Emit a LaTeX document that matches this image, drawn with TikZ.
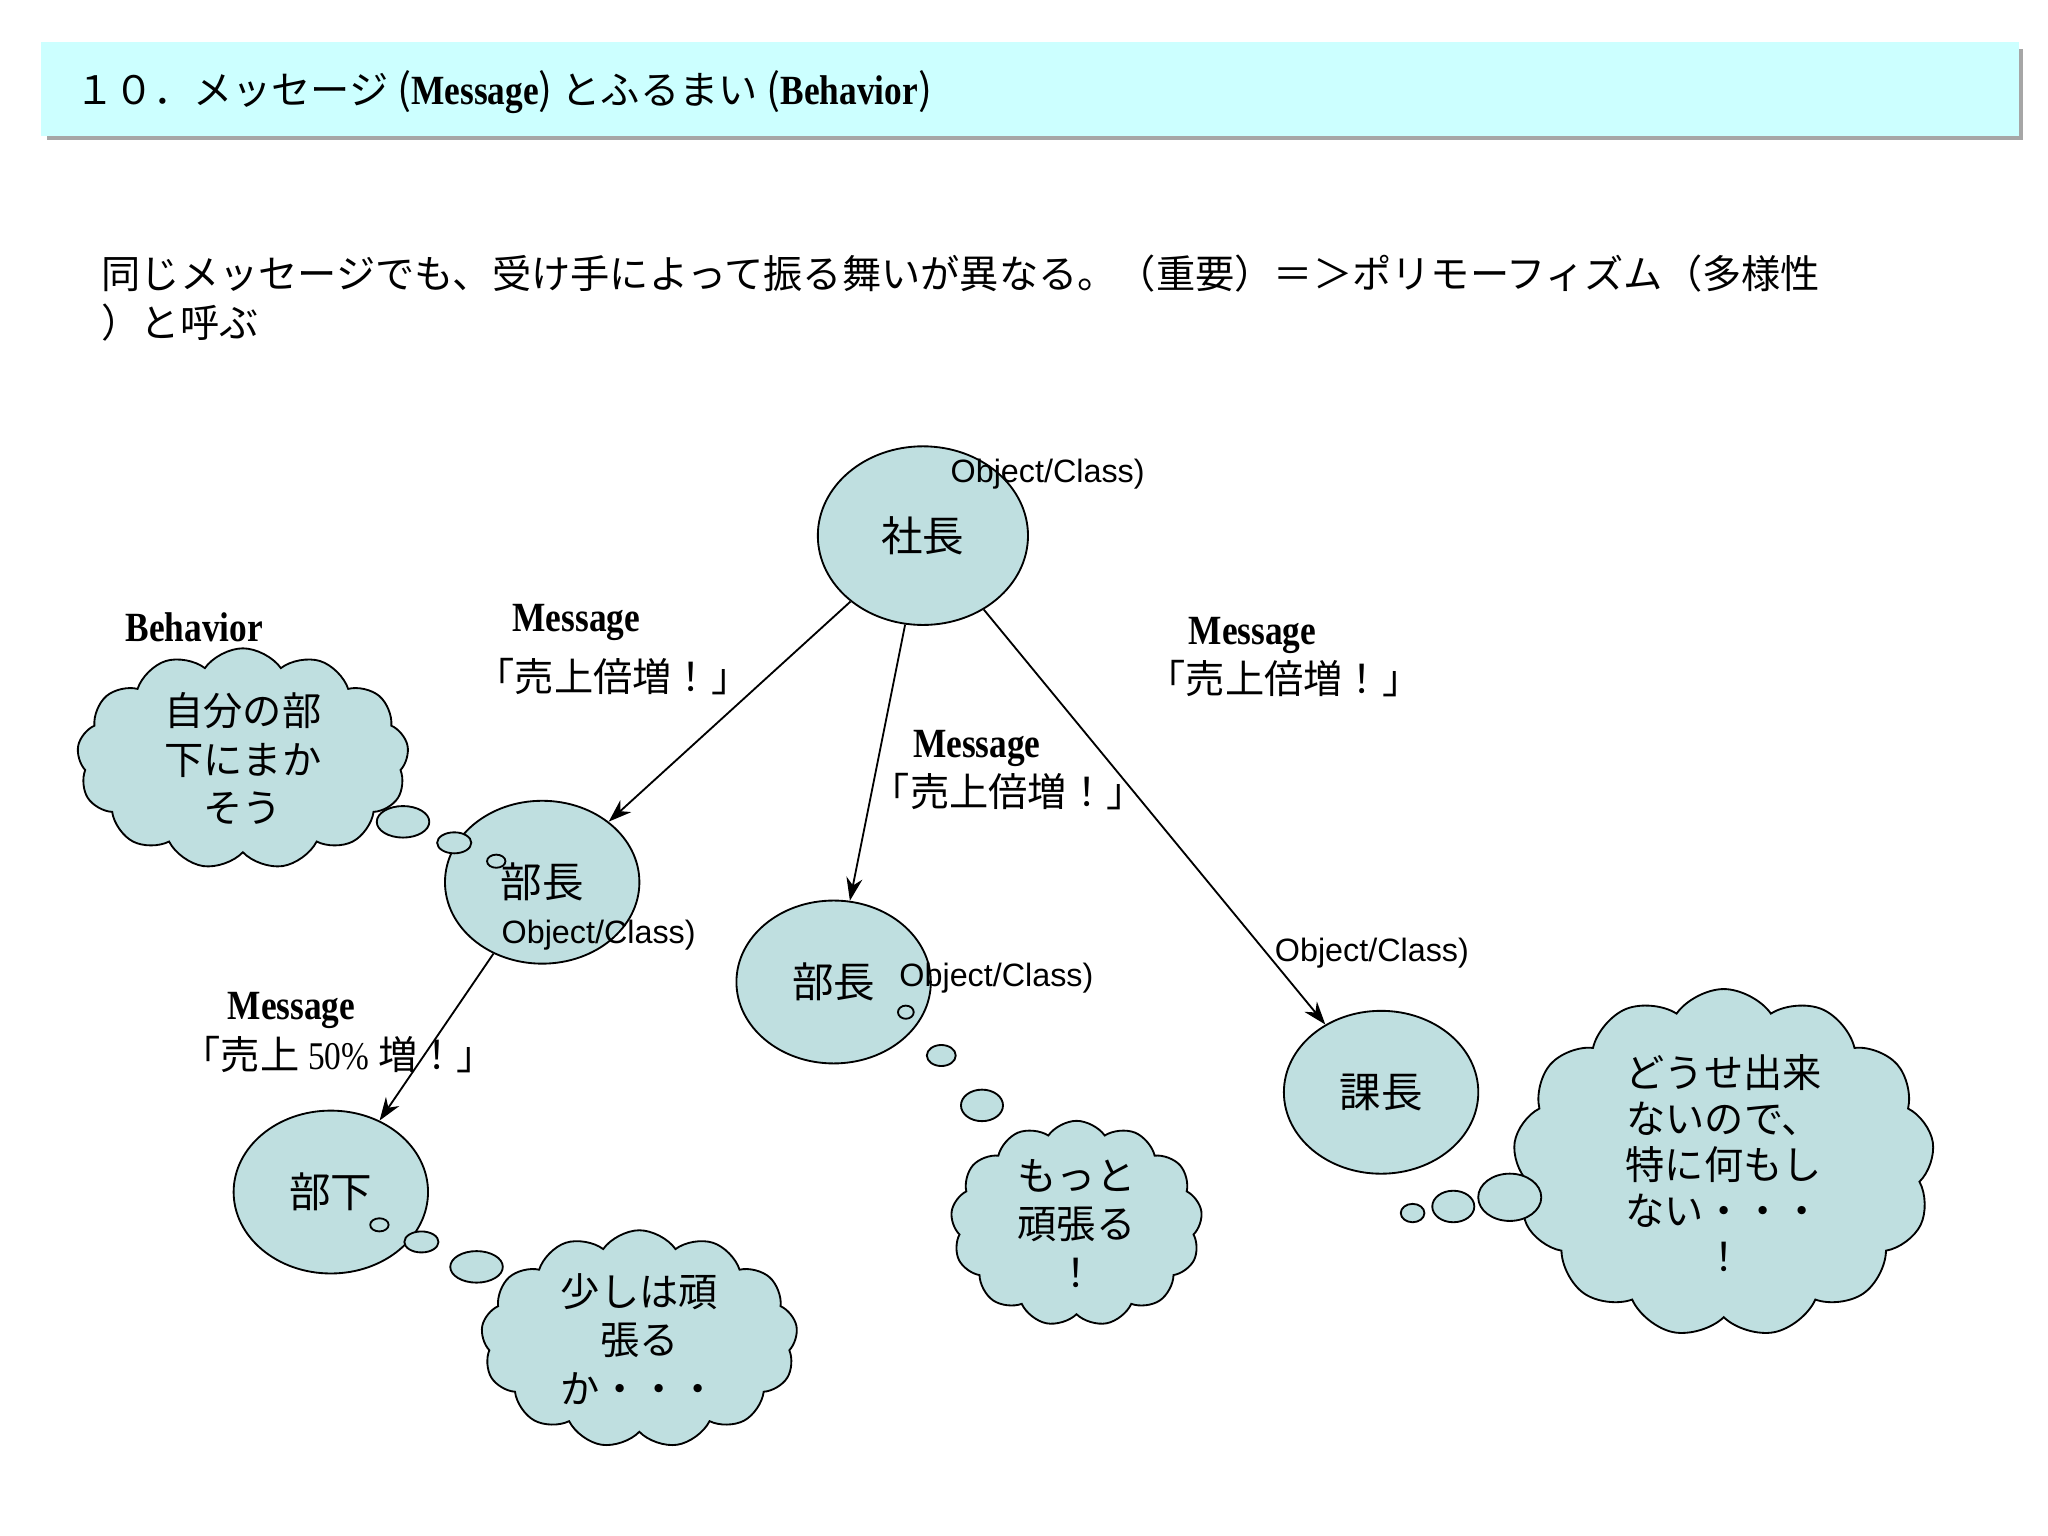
\documentclass[tikz,border=0pt]{standalone}
\usepackage{fontspec}
\setmainfont{Liberation Sans}
\newfontfamily\cjk{Noto Sans CJK JP}
\newfontfamily\gothf{Liberation Serif}[FakeStretch=0.85]
\newcommand\gothtxt[1]{{\gothf\bfseries #1}}
\usetikzlibrary{shapes.symbols,shapes.geometric,arrows.meta}
\definecolor{band}{HTML}{CCFFFF}
\definecolor{blob}{HTML}{BFDFE0}
\tikzset{
	obj/.style={draw,ellipse,fill=blob,inner sep=0pt,minimum width=1.48cm,minimum height=1.24cm,font=\cjk\fontsize{9}{10}\selectfont},
	think/.style={draw,cloud,cloud puffs=13,cloud puff arc=110,fill=blob,align=center,inner sep=0pt,font=\cjk\fontsize{8.5}{10.5}\selectfont},
	bub/.style={draw,ellipse,fill=blob,inner sep=0pt},
	msg/.style={-{Stealth[length=5pt,width=3.5pt]}},
	jp/.style={font=\cjk\fontsize{8.5}{10}\selectfont},
	oc/.style={font=\fontsize{7}{8}\selectfont},
	goth/.style={font=\fontsize{9}{10}\selectfont},
}
\begin{document}
\begin{tikzpicture}[x=0.01cm,y=-0.01cm]
	\useasboundingbox (0,0) rectangle (1560,1170);
	% header
	\fill[gray!70] (36,37) rectangle (1541,107);
	\draw[band,fill=band] (32,33) rectangle (1537,103);
	\node[anchor=west,font=\cjk\fontsize{8.5}{10}\selectfont] (title) at (45,70) {１０．メッセージ {\fontsize{9}{10}\selectfont(\gothtxt{Message})} とふるまい {\fontsize{9}{10}\selectfont(\gothtxt{Behavior})}};
	\node[anchor=north west,align=left,font=\cjk\fontsize{8.5}{10.5}\selectfont] (intro) at (65,182) {同じメッセージでも、受け手によって振る舞いが異なる。（重要）＝＞ポリモーフィズム（多様性\\）と呼ぶ};
	% objects
	\node[obj,minimum width=1.6cm,minimum height=1.36cm] (pres) at (703,408) {社長};
	\node[obj] (bu1) at (413,672) {部長};
	\node[obj] (bu2) at (635,748) {部長};
	\node[obj] (ka) at (1052,832) {課長};
	\node[obj] (sub) at (252,908) {部下};
	\node[oc] (oc1) at (798,361) {Object/Class)};
	\node[oc] (oc2) at (456,712) {Object/Class)};
	\node[oc] (oc3) at (759,745) {Object/Class)};
	\node[oc] (oc4) at (1045,726) {Object/Class)};
	% messages
	\draw[msg] (pres) -- (bu1);
	\draw[msg] (pres) -- (bu2);
	\draw[msg] (pres) -- (ka);
	\draw[msg] (bu1) -- (sub);
	\node[goth] (m1) at (439,474) {\gothtxt{Message}};
	\node[jp] (t1) at (467,515) {「売上倍増！」};
	\node[goth] (m2) at (954,484) {\gothtxt{Message}};
	\node[jp] (t2) at (978,517) {「売上倍増！」};
	\node[goth] (m3) at (744,570) {\gothtxt{Message}};
	\node[jp] (t3) at (768,603) {「売上倍増！」};
	\node[goth] (m4) at (222,770) {\gothtxt{Message}};
	\node[jp] (t4) at (258,803) {「売上 {\gothf 50\%} 増！」};
	\node[goth] (beh) at (148,478) {\gothtxt{Behavior}};
	% thoughts
	\node[think,aspect=1.7,minimum width=2.3cm,minimum height=1.3cm] (c1) at (185,578) {自分の部\\下にまか\\そう};
	\node[bub,minimum width=0.4cm,minimum height=0.24cm] (b11) at (307,626) {};
	\node[bub,minimum width=0.26cm,minimum height=0.16cm] (b12) at (346,642) {};
	\node[bub,minimum width=0.14cm,minimum height=0.1cm] (b13) at (378,656) {};
	\node[think,aspect=1.63,minimum width=2.4cm,minimum height=1.45cm] (c2) at (487,1020) {少しは頑\\張る\\か・・・};
	\node[bub,minimum width=0.14cm,minimum height=0.1cm] (b21) at (289,933) {};
	\node[bub,minimum width=0.26cm,minimum height=0.16cm] (b22) at (321,946) {};
	\node[bub,minimum width=0.4cm,minimum height=0.24cm] (b23) at (363,965) {};
	\node[think,aspect=1.3,minimum width=1.9cm,minimum height=1.45cm] (c3) at (820,932) {もっと\\頑張る\\！};
	\node[bub,minimum width=0.12cm,minimum height=0.1cm] (b31) at (690,771) {};
	\node[bub,minimum width=0.22cm,minimum height=0.16cm] (b32) at (717,804) {};
	\node[bub,minimum width=0.32cm,minimum height=0.24cm] (b33) at (748,842) {};
	\node[think,aspect=1.28,minimum width=2.8cm,minimum height=2.2cm,font=\cjk\fontsize{8.5}{10}\selectfont] (c4) at (1313,886) {どうせ出来\\ないので、\\特に何もし\\ない・・・\\！};
	\node[bub,minimum width=0.18cm,minimum height=0.14cm] (b41) at (1076,924) {};
	\node[bub,minimum width=0.32cm,minimum height=0.24cm] (b42) at (1107,919) {};
	\node[bub,minimum width=0.48cm,minimum height=0.36cm] (b43) at (1150,912) {};
\end{tikzpicture}
\end{document}
